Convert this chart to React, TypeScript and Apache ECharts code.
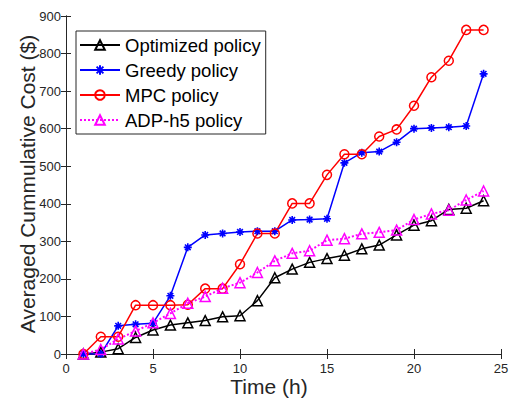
import React, { useEffect, useRef } from "react";
import * as echarts from "echarts";

// Hour of the day (x) and averaged cumulative cost per policy (y, $)
const hours = [1, 2, 3, 4, 5, 6, 7, 8, 9, 10, 11, 12, 13, 14, 15, 16, 17, 18, 19, 20, 21, 22, 23, 24];
const optimizedCost = [0, 5, 14, 44, 64, 77, 83, 89, 99, 102, 142, 203, 226, 244, 254, 263, 280, 290, 317, 343, 355, 385, 388, 408];
const greedyCost = [0, 0, 75, 79, 82, 155, 284, 317, 321, 325, 327, 327, 357, 358, 360, 509, 536, 539, 564, 600, 602, 604, 607, 746];
const mpcCost = [0, 46, 46, 130, 130, 130, 131, 174, 174, 239, 321, 321, 401, 401, 477, 532, 532, 579, 598, 661, 737, 781, 863, 863];
const adpCost = [0, 12, 40, 61, 83, 108, 135, 153, 175, 190, 217, 248, 268, 275, 303, 307, 320, 324, 330, 358, 373, 383, 410, 434];

const seriesNames = ["Optimized policy", "Greedy policy", "MPC policy", "ADP-h5 policy"];

const AXIS_COLOR = "#262626";
const FONT = '"Liberation Sans", Arial, Helvetica, sans-serif';
const ASTERISK = "path://M0,-10L0,10M-10,0L10,0M-7.07,-7.07L7.07,7.07M-7.07,7.07L7.07,-7.07";

const pairs = (ys: number[]) => hours.map((h, i) => [h, ys[i]]);

function axisCommon(showLabels: boolean) {
  return {
    axisLine: { show: true, lineStyle: { color: AXIS_COLOR, width: 1 } },
    axisTick: { show: true, inside: true, length: 5, lineStyle: { color: AXIS_COLOR, width: 1 } },
    axisLabel: { show: showLabels, color: AXIS_COLOR, fontSize: 13, fontFamily: FONT },
    splitLine: { show: false },
  };
}

export default function App() {
  const ref = useRef<HTMLDivElement>(null);

  useEffect(() => {
    if (!ref.current) return;
    const chart = echarts.init(ref.current, null, { renderer: "svg" });
    const hollow = (c: string) => ({ color: "rgba(0,0,0,0)", borderColor: c, borderWidth: 1.5 });

    chart.setOption({
      animation: false,
      backgroundColor: "#fff",
      grid: { left: 66, right: 13, top: 16, bottom: 50, containLabel: false },
      xAxis: [
        {
          type: "value", min: 0, max: 25, interval: 5, position: "bottom",
          ...axisCommon(true),
          axisLabel: { show: true, color: AXIS_COLOR, fontSize: 13, fontFamily: FONT, margin: 8 },
        },
        { type: "value", min: 0, max: 25, interval: 5, position: "top", ...axisCommon(false) },
      ],
      yAxis: [
        {
          type: "value", min: 0, max: 900, interval: 100, position: "left",
          ...axisCommon(true),
          axisLabel: { show: true, color: AXIS_COLOR, fontSize: 13, fontFamily: FONT, margin: 5 },
        },
        { type: "value", min: 0, max: 900, interval: 100, position: "right", ...axisCommon(false) },
      ],
      legend: {
        data: seriesNames,
        orient: "vertical",
        left: 76,
        top: 31,
        itemWidth: 40,
        itemHeight: 12,
        itemGap: 5,
        padding: [4, 5, 4, 3],
        backgroundColor: "#fff",
        borderColor: AXIS_COLOR,
        borderWidth: 1,
        borderRadius: 0,
        textStyle: { fontSize: 18.5, fontFamily: FONT, color: "#000", lineHeight: 20 },
      },
      graphic: [
        {
          type: "text", x: 269, y: 386,
          style: { text: "Time (h)", fontSize: 21, fontFamily: FONT, fill: AXIS_COLOR, align: "center", verticalAlign: "middle" },
        },
        {
          type: "text", x: 27, y: 184, rotation: Math.PI / 2,
          style: { text: "Averaged Cummulative Cost ($)", fontSize: 21, fontFamily: FONT, fill: AXIS_COLOR, align: "center", verticalAlign: "middle" },
        },
      ],
      series: [
        {
          name: seriesNames[0], type: "line", data: pairs(optimizedCost),
          symbol: "triangle", symbolSize: 10, showAllSymbol: true,
          lineStyle: { color: "#000000", width: 1.5 },
          itemStyle: hollow("#000000"),
        },
        {
          name: seriesNames[1], type: "line", data: pairs(greedyCost),
          symbol: ASTERISK, symbolSize: 8, showAllSymbol: true,
          lineStyle: { color: "#0000ff", width: 1.5 },
          itemStyle: { color: "#0000ff", borderColor: "#0000ff", borderWidth: 1.6 },
        },
        {
          name: seriesNames[2], type: "line", data: pairs(mpcCost),
          symbol: "circle", symbolSize: 9, showAllSymbol: true,
          lineStyle: { color: "#ff0000", width: 1.5 },
          itemStyle: hollow("#ff0000"),
        },
        {
          name: seriesNames[3], type: "line", data: pairs(adpCost),
          symbol: "triangle", symbolSize: 10, showAllSymbol: true,
          lineStyle: { color: "#ff00ff", width: 2, type: "dotted" },
          itemStyle: hollow("#ff00ff"),
        },
      ],
    });

    return () => chart.dispose();
  }, []);

  return (
    <div
      ref={ref}
      style={{ position: "fixed", left: 0, top: 0, width: 514, height: 404 }}
    />
  );
}
